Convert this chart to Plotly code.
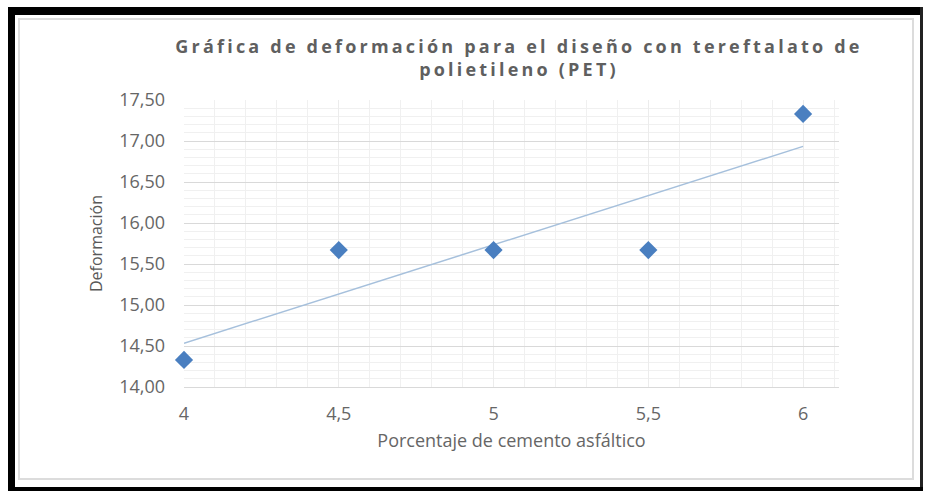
import numpy as np
import plotly.graph_objects as go

# Data
porcentaje = [4, 4.5, 5, 5.5, 6]
deformacion = [14.33, 15.67, 15.67, 15.67, 17.33]
x_ticks = [4, 4.5, 5, 5.5, 6]
x_tick_labels = ["4", "4,5", "5", "5,5", "6"]
y_ticks = [14.0, 14.5, 15.0, 15.5, 16.0, 16.5, 17.0, 17.5]
y_tick_labels = ["14,00", "14,50", "15,00", "15,50", "16,00", "16,50", "17,00", "17,50"]

# Linear trend (least squares)
slope, intercept = np.polyfit(porcentaje, deformacion, 1)
trend_x = [min(porcentaje), max(porcentaje)]
trend_y = [slope * v + intercept for v in trend_x]

W, H = 925, 491
L, R, T, B = 184, 86, 100, 104
pw, ph = W - L - R, H - T - B

def px(x):
    return (x - L) / pw

def py(y):
    return (H - B - y) / ph

fig = go.Figure()
fig.add_trace(go.Scatter(x=trend_x, y=trend_y, mode="lines",
                         line=dict(color="#a6c0dc", width=1.5),
                         showlegend=False, hoverinfo="skip", cliponaxis=False))
fig.add_trace(go.Scatter(x=porcentaje, y=deformacion, mode="markers",
                         marker=dict(symbol="diamond", size=14, color="#4a7fc0"),
                         showlegend=False, cliponaxis=False))

tick_font = dict(family="Open Sans, Lato, sans-serif", size=18, color="#666666")

shapes = [
    # inner light border
    dict(type="rect", xref="paper", yref="paper", x0=px(19), x1=px(913), y0=py(19), y1=py(479),
         line=dict(color="#dcdcdc", width=2), fillcolor="rgba(0,0,0,0)", layer="below"),
    # black frame
    dict(type="rect", xref="paper", yref="paper", x0=px(8), x1=px(15), y0=py(7), y1=py(491),
         line=dict(width=0), fillcolor="black", layer="above"),
    dict(type="rect", xref="paper", yref="paper", x0=px(8), x1=px(923), y0=py(7), y1=py(15),
         line=dict(width=0), fillcolor="black", layer="above"),
    dict(type="rect", xref="paper", yref="paper", x0=px(920), x1=px(923), y0=py(7), y1=py(491),
         line=dict(width=0), fillcolor="#222222", layer="above"),
    dict(type="rect", xref="paper", yref="paper", x0=px(8), x1=px(923), y0=py(487), y1=py(491),
         line=dict(width=0), fillcolor="black", layer="above"),
]

title_text = ("<b><span style='letter-spacing:3.2px'>Gráfica de deformación para el diseño con tereftalato de</span></b>"
              "<br><b><span style='letter-spacing:3.2px'>polietileno (PET)</span></b>")

fig.update_layout(
    width=W, height=H,
    margin=dict(l=L, r=R, t=T, b=B),
    paper_bgcolor="white", plot_bgcolor="white",
    separators=",.",
    title=dict(text=title_text, xref="container", x=519 / W, xanchor="center",
               yref="container", y=1 - 53 / H, yanchor="middle",
               font=dict(family="Open Sans, sans-serif", size=18, color="#5f5f5f")),
    xaxis=dict(range=[4, 6.116], tickmode="array", tickvals=x_ticks, ticktext=x_tick_labels,
               showgrid=True, gridcolor="#ececec", gridwidth=1,
               minor=dict(dtick=0.1, tick0=4, showgrid=True, gridcolor="#f0f0f0", gridwidth=1),
               zeroline=False, showline=True, linecolor="#d9d9d9", linewidth=1,
               ticks="", tickfont=tick_font, ticklabelstandoff=10,
               title=dict(text="Porcentaje de cemento asfáltico", standoff=10,
                          font=dict(family="Open Sans, sans-serif", size=18, color="#666666"))),
    yaxis=dict(range=[14, 17.5], tickmode="array", tickvals=y_ticks, ticktext=y_tick_labels,
               showgrid=True, gridcolor="#d9d9d9", gridwidth=1,
               minor=dict(dtick=0.1, tick0=14, showgrid=True, gridcolor="#f0f0f0", gridwidth=1),
               zeroline=False, showline=False, ticks="", tickfont=tick_font,
               ticklabelstandoff=18,
               title=dict(text="Deformación", standoff=12,
                          font=dict(family="Open Sans, sans-serif", size=16, color="#595959"))),
    shapes=shapes,
)

fig.write_html("out.html", config={"displayModeBar": False},
               post_script="document.body.style.margin='0';document.body.style.overflow='hidden';")
